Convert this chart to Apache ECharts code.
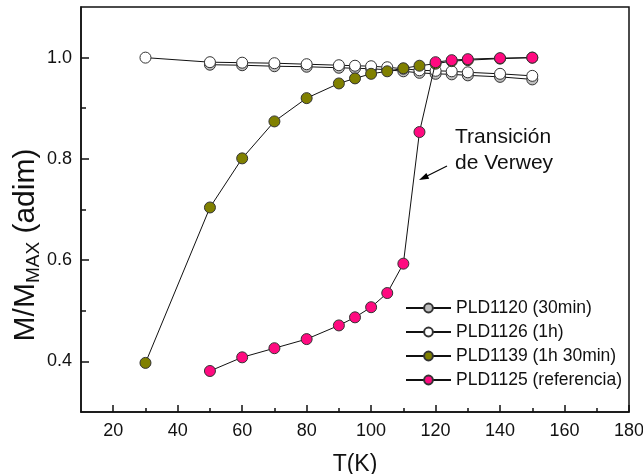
<!DOCTYPE html>
<html>
<head>
<meta charset="utf-8">
<script src="https://cdn.jsdelivr.net/npm/echarts@6/dist/echarts.min.js"></script>
<style>html,body{margin:0;padding:0;background:#fff;}#c{width:643px;height:474px;}</style>
</head>
<body>
<div id="c"></div>
<script>
// Temperatures (K)
const T_1120 = [50, 60, 70, 80, 90, 95, 100, 105, 110, 115, 120, 125, 130, 140, 150];
const T_1126 = [30, 50, 60, 70, 80, 90, 95, 100, 105, 110, 115, 120, 125, 130, 140, 150];
const T_1139 = [30, 50, 60, 70, 80, 90, 95, 100, 105, 110, 115, 120, 125, 130, 140, 150];
const T_1125 = [50, 60, 70, 80, 90, 95, 100, 105, 110, 115, 120, 125, 130, 140, 150];
// M/Mmax values
const M_1120 = [0.986, 0.985, 0.983, 0.982, 0.980, 0.979, 0.978, 0.976, 0.973, 0.970, 0.968, 0.967, 0.965, 0.962, 0.957];
const M_1126 = [1.000, 0.991, 0.990, 0.989, 0.987, 0.985, 0.984, 0.983, 0.981, 0.978, 0.975, 0.974, 0.973, 0.971, 0.968, 0.964];
const M_1139 = [0.397, 0.704, 0.801, 0.874, 0.920, 0.949, 0.959, 0.968, 0.973, 0.979, 0.984, 0.988, 0.993, 0.995, 0.998, 1.000];
const M_1125 = [0.381, 0.408, 0.426, 0.444, 0.471, 0.487, 0.507, 0.535, 0.593, 0.853, 0.991, 0.995, 0.997, 0.999, 1.000];
const seriesNames = ['PLD1120 (30min)', 'PLD1126 (1h)', 'PLD1139 (1h 30min)', 'PLD1125 (referencia)'];
const seriesColors = ['#BEBEBE', '#FFFFFF', '#808000', '#FF0A80'];
// Tick labels
const xMajor = [20, 40, 60, 80, 100, 120, 140, 160, 180];
const xMinor = [30, 50, 70, 90, 110, 130, 150, 170];
const yMajor = [0.4, 0.6, 0.8, 1.0];
const yMinor = [0.5, 0.7, 0.9];
const annotation = ['Transición', 'de Verwey'];

const FONT = 'Arial, "Liberation Sans", sans-serif';
const chart = echarts.init(document.getElementById('c'));
const pairs = (xs, ys) => xs.map((x, i) => [x, ys[i]]);
const datasets = [pairs(T_1120, M_1120), pairs(T_1126, M_1126), pairs(T_1139, M_1139), pairs(T_1125, M_1125)];

const axisLineStyle = {color: '#111', width: 1.5};
const tickStyle = {color: '#111', width: 1.5};

chart.setOption({
  animation: false,
  backgroundColor: '#fff',
  grid: {left: 81, top: 7, right: 14, bottom: 62, outerBoundsMode: 'none', containLabel: false,
    show: true, borderColor: '#111', borderWidth: 1.5, backgroundColor: 'transparent'},
  xAxis: [{
    type: 'value', min: 10, max: 180,
    name: 'T(K)', nameLocation: 'middle', nameGap: 41,
    nameTextStyle: {fontFamily: FONT, fontSize: 23, color: '#111'},
    axisLine: {show: true, lineStyle: axisLineStyle},
    axisTick: {show: true, inside: true, length: 7, lineStyle: tickStyle, customValues: xMajor},
    axisLabel: {fontFamily: FONT, fontSize: 18, color: '#111', margin: 10, customValues: xMajor},
    splitLine: {show: false}
  }, {
    type: 'value', min: 10, max: 180, position: 'bottom',
    axisLine: {show: false},
    axisTick: {show: true, inside: true, length: 4, lineStyle: tickStyle, customValues: xMinor},
    axisLabel: {show: false},
    splitLine: {show: false}
  }],
  yAxis: [{
    type: 'value', min: 0.3, max: 1.1,
    axisLine: {show: true, lineStyle: axisLineStyle},
    axisTick: {show: true, inside: true, length: 8, lineStyle: tickStyle, customValues: yMajor},
    axisLabel: {fontFamily: FONT, fontSize: 18, color: '#111', margin: 9, customValues: yMajor, formatter: v => v.toFixed(1)},
    splitLine: {show: false}
  }, {
    type: 'value', min: 0.3, max: 1.1, position: 'left',
    axisLine: {show: false},
    axisTick: {show: true, inside: true, length: 5, lineStyle: tickStyle, customValues: yMinor},
    axisLabel: {show: false},
    splitLine: {show: false}
  }],
  legend: {
    orient: 'vertical', left: 400, top: 294, padding: 5,
    itemWidth: 45, itemHeight: 11, itemGap: 6,
    textStyle: {fontFamily: FONT, fontSize: 17.5, color: '#111'},
    data: seriesNames
  },
  series: datasets.map((d, i) => ({
    name: seriesNames[i], type: 'line', data: d,
    symbol: 'circle', symbolSize: 11,
    lineStyle: {color: '#111', width: 1},
    itemStyle: {color: seriesColors[i], borderColor: '#333', borderWidth: 1},
    z: 2 + i
  })),
  graphic: [{
    id: 'note', type: 'text', x: 455, y: 124,
    style: {text: annotation.join('\n'), fontFamily: FONT, fontSize: 21, fontWeight: 'normal', lineHeight: 26, fill: '#111', align: 'left', verticalAlign: 'top'}
  }, {
    id: 'ylabel', type: 'text', x: 26, y: 245, rotation: Math.PI / 2,
    style: {
      text: '{a|M/M}{b|MAX}{a| (adim)}',
      align: 'center', verticalAlign: 'middle',
      rich: {
        a: {fontFamily: FONT, fontWeight: 'normal', fontSize: 30, fill: '#111', lineHeight: 34},
        b: {fontFamily: FONT, fontWeight: 'normal', fontSize: 19, fill: '#111', lineHeight: 22, verticalAlign: 'bottom'}
      }
    }
  }, {
    // annotation arrow (tail near the text, head at the transition line)
    id: 'arrow', type: 'group', z: 100,
    children: [{
      type: 'line', shape: {x1: 447, y1: 166, x2: 427, y2: 176}, style: {stroke: '#000', lineWidth: 1.1}
    }, {
      type: 'polygon', shape: {points: [[419, 180], [426.4, 173.1], [429.2, 178.8]]}, style: {fill: '#000'}
    }]
  }]
});
</script>
</body>
</html>
